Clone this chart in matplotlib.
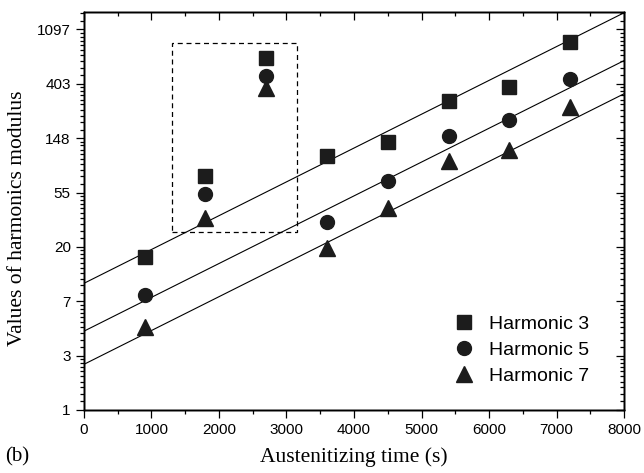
"""
plot.py

Harmonics modulus vs austenitizing time, ln-scaled y axis with
fitted lines per harmonic and a dashed box around the outliers.
The y axis is drawn linear in ln(value) so the minor ticks can sit
at linear steps of the value, like the original.
"""

import numpy as np
import matplotlib
matplotlib.use("Agg")
import matplotlib.pyplot as plt
from matplotlib.patches import Rectangle
from matplotlib.ticker import FixedLocator, FixedFormatter

# data
time_s = [900, 1800, 2700, 3600, 4500, 5400, 6300, 7200]
harm3 = [16.6, 74, 654, 107, 139, 295, 377, 871]
harm5 = [8.3, 52.7, 464, 31.7, 67.3, 154, 207, 444]
harm7 = [4.6, 33.9, 372, 19.6, 41, 97, 119, 264]

# fitted lines: ln(y) = intercept + slope * t
fit_intercept = [2.33, 1.45, 0.84]
fit_slope = [6.22e-4, 6.22e-4, 6.22e-4]

series_labels = ["Harmonic 3", "Harmonic 5", "Harmonic 7"]
markers = ["s", "o", "^"]
marker_sizes = [10, 10, 11]

# major y ticks sit at e^0 .. e^7, labelled with rounded values
ytick_exp = [0, 1, 2, 3, 4, 5, 6, 7]
ytick_labels = ["1", "3", "7", "20", "55", "148", "403", "1097"]
xtick_vals = [0, 1000, 2000, 3000, 4000, 5000, 6000, 7000, 8000]

# dashed box around the outlying points: (x0, x1, y0, y1)
box = (1300, 3150, 26.4, 855)

ink = "#1c1c1c"
sans = ["Liberation Sans", "DejaVu Sans"]
serif = ["Liberation Serif", "DejaVu Serif"]

ylim = (0, 7.32)
xlim = (0, 8000)
minor_x = np.arange(500, 8000, 1000)
minor_y = []
for k in ytick_exp:
    lo, hi = np.exp(k), np.exp(k + 1)
    minor_y += [np.log(lo + j * (hi - lo) / 10) for j in range(1, 10)]


def set_y_ticks(a):
    a.set_ylim(*ylim)
    a.yaxis.set_major_locator(FixedLocator(ytick_exp))
    a.yaxis.set_minor_locator(FixedLocator(minor_y))


def set_x_ticks(a):
    a.set_xlim(*xlim)
    a.xaxis.set_major_locator(FixedLocator(xtick_vals))
    a.xaxis.set_minor_locator(FixedLocator(minor_x))


fig = plt.figure(figsize=(6.44, 4.73), dpi=100)
ax = fig.add_axes([0.1304, 0.1332, 0.8386, 0.8414])
set_x_ticks(ax)
set_y_ticks(ax)
ax.yaxis.set_major_formatter(FixedFormatter(ytick_labels))

t_line = np.array([0, 8000])
for a, b in zip(fit_intercept, fit_slope):
    ax.plot(t_line, a + b * t_line, color="black", lw=0.8, zorder=2)

for vals, lab, mk, ms in zip([harm3, harm5, harm7], series_labels, markers, marker_sizes):
    ax.plot(time_s, np.log(vals), linestyle="none", marker=mk, ms=ms, color=ink,
            label=lab, zorder=3)

x0, x1, y0, y1 = box
ax.add_patch(Rectangle((x0, np.log(y0)), x1 - x0, np.log(y1) - np.log(y0),
                       fill=False, ls=(0, (4, 3)), lw=0.9, edgecolor="black",
                       zorder=1))

ax.tick_params(axis="both", which="major", direction="out", length=6, width=0.9,
               labelsize=11)
ax.tick_params(axis="both", which="minor", direction="out", length=3.2, width=0.9)
for lab in ax.get_xticklabels() + ax.get_yticklabels():
    lab.set_family(sans)

# inward ticks on top and right via twin axes
ax_top = ax.twiny()
set_x_ticks(ax_top)
ax_top.tick_params(which="major", direction="in", length=6, width=0.9, labeltop=False)
ax_top.tick_params(which="minor", direction="in", length=3.2, width=0.9)
ax_right = ax.twinx()
set_y_ticks(ax_right)
ax_right.tick_params(which="major", direction="in", length=6, width=0.9, labelright=False)
ax_right.tick_params(which="minor", direction="in", length=3.2, width=0.9)

for a in (ax, ax_top, ax_right):
    for sp in a.spines.values():
        sp.set_linewidth(1.0)

ax.set_xlabel("Austenitizing time (s)", family=serif, fontsize=15.5, labelpad=7)
ax.set_ylabel("Values of harmonics modulus", family=serif, fontsize=15.5)
ax.yaxis.set_label_coords(-0.105, 0.481)
fig.text(0.008, 0.025, "(b)", family=serif, fontsize=15)

ax.legend(loc="upper left", bbox_to_anchor=(0.682, 0.237), frameon=False,
          prop={"family": sans, "size": 14}, handlelength=1.2,
          handletextpad=0.7, labelspacing=0.42, borderaxespad=0, borderpad=0)

fig.savefig("out.png", dpi=100)
